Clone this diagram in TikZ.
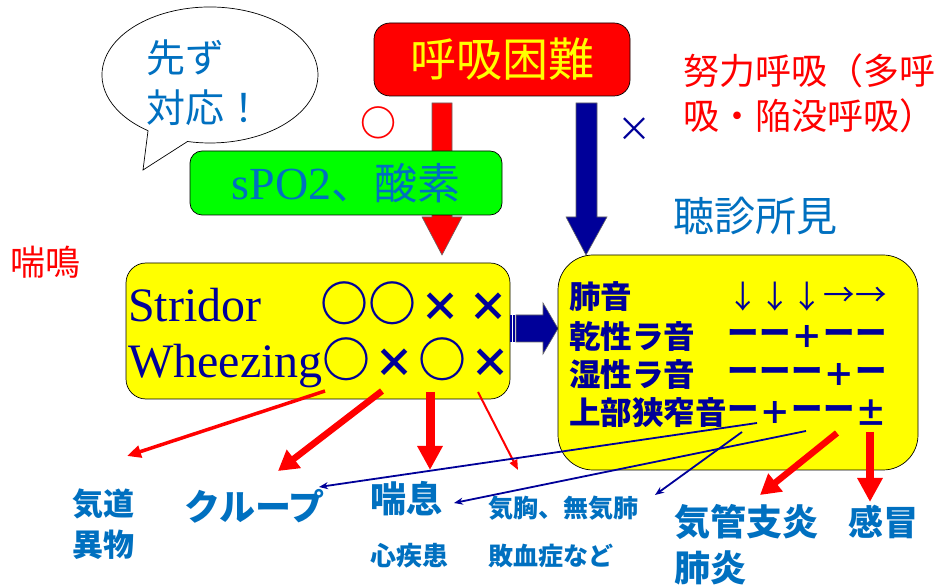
\documentclass[tikz,border=0pt]{standalone}
\usepackage{fontspec}
\setmainfont{Liberation Serif}
\newfontfamily\jp{Noto Sans CJK JP}
\usetikzlibrary{arrows.meta}
\definecolor{kred}{HTML}{FF0000}
\definecolor{kyellow}{HTML}{FFFF00}
\definecolor{kgreen}{HTML}{00FF00}
\definecolor{kblue}{HTML}{0070C0}
\definecolor{knavy}{HTML}{000099}
\newcommand{\fsz}[1]{\fontsize{#1}{#1}\selectfont}
\newcommand{\batsu}{\makebox[48pt]{\fsz{40}×}}

\begin{document}
\begin{tikzpicture}[x=1pt,y=-1pt,
  panel/.style={draw=black,line width=0.7pt,inner sep=0pt},
  jlbl/.style={inner sep=0pt,anchor=west,align=left},
  tlabel/.style={inner sep=0pt,anchor=west,text=knavy,font=\jp\bfseries\fsz{31.5}},
  tsym/.style={inner sep=0pt,text=knavy,font=\jp\bfseries\fsz{31.5}},
  redthin/.style={kred,line width=3.5pt,-{Triangle[length=14pt,width=12pt]}},
  redfine/.style={kred,line width=2pt,-{Triangle[length=10pt,width=8pt]}},
  redthick/.style={kred,line width=6.5pt,-{Triangle[length=20pt,width=22pt]}},
  redfat/.style={kred,line width=9pt,-{Triangle[length=24pt,width=24pt]}},
  navyline/.style={knavy,line width=1.8pt,-{Stealth[length=9pt,width=7pt]}},
  bigarrow/.style={draw=black!60,line width=0.6pt}
]
\fill[white] (0,0) rectangle (946,585);
\useasboundingbox (0,0) rectangle (946,585);

\filldraw[fill=white,draw=black,line width=0.7pt] (148,131) -- (143,170) -- (187.5,141.5)
   arc[start angle=102,end angle=-235,x radius=108,y radius=68] -- cycle;
\node[jlbl,text=kblue,font=\jp\fontsize{39}{50}\selectfont] (first) at (146,83) {先ず\\対応！};

\node[panel,fill=kred,rounded corners=16pt,minimum width=256pt,minimum height=73pt,text=kyellow,font=\jp\fsz{46}] (dysp) at (502,59.5) {呼吸困難};
\filldraw[fill=kred,bigarrow] (432,103) -- (452,103) -- (452,217) -- (462,217) -- (442,255) -- (422,217) -- (432,217) -- cycle;
\filldraw[fill=knavy,bigarrow] (576,103) -- (597,103) -- (597,217) -- (607,217) -- (586,255) -- (566,217) -- (576,217) -- cycle;
\node[panel,fill=kgreen,rounded corners=12pt,minimum width=312pt,minimum height=64pt,text=kblue] (spo) at (346,183) {\fsz{46}sPO2{\jp\fsz{43}、酸素}};

\node[text=kred,font=\jp\bfseries\fsz{36},inner sep=0pt] (yes) at (378,123) {○};
\node[text=knavy,font=\jp\fsz{34},inner sep=0pt] (no) at (634,130) {×};
\node[jlbl,text=kred,font=\jp\fontsize{36}{45}\selectfont] (effort) at (683,93) {努力呼吸（多呼\\吸・陥没呼吸）};
\node[jlbl,text=kblue,font=\jp\fsz{41}] (ausc) at (673,216) {聴診所見};
\node[jlbl,text=kred,font=\jp\fsz{35}] (stridor) at (10,262) {喘鳴};

\node[panel,fill=kyellow,rounded corners=20pt,minimum width=384pt,minimum height=136pt] (lbox) at (318,331) {};
\node[inner sep=0pt,anchor=base west,text=knavy,font=\fsz{48}] (str) at (128,322) {Stridor};
\node[inner sep=0pt,anchor=base west,text=knavy,font=\jp\bfseries\fsz{48}] (strm) at (320,322) {○○\batsu\batsu};
\node[inner sep=0pt,anchor=base west,text=knavy,font=\fsz{48}] (whz) at (128,378) {Wheezing{\jp\bfseries ○\batsu○\batsu}};

\fill[knavy] (510,315) rectangle (511.5,342);
\fill[knavy] (513,315) rectangle (514.5,342);
\filldraw[fill=knavy,bigarrow] (516,315) -- (543,315) -- (543,303) -- (558,328.5) -- (543,354) -- (543,342) -- (516,342) -- cycle;

\node[panel,fill=kyellow,rounded corners=35pt,minimum width=360pt,minimum height=215pt] (rbox) at (738,362.5) {};
\node[tlabel] (lung) at (569,297) {肺音};
\node[tlabel] (dry) at (569,337) {乾性ラ音};
\node[tlabel] (wet) at (569,375) {湿性ラ音};
\node[tlabel] (upper) at (569,413) {上部狭窄音};
\foreach \s [count=\c] in {↓,↓,↓,→,→}
   \node[tsym,font=\jp\fsz{31.5}] (a\c) at (711+32*\c,297) {\s};
\foreach \s [count=\c] in {ー,ー,＋,ー,ー}
   \node[tsym] (b\c) at (711+32*\c,337) {\s};
\foreach \s [count=\c] in {ー,ー,ー,＋,ー}
   \node[tsym] (c\c) at (711+32*\c,375) {\s};
\foreach \s [count=\c] in {ー,＋,ー,ー,±}
   \node[tsym] (d\c) at (711+32*\c,413) {\s};

\node[jlbl,text=kblue,font=\jp\bfseries\fontsize{31}{41}\selectfont] (fb) at (72,524) {気道\\異物};
\node[jlbl,text=kblue,font=\jp\bfseries\fsz{36}] (croup) at (184,506) {クループ};
\node[jlbl,text=kblue,font=\jp\bfseries\fsz{36}] (asthma) at (370,499) {喘息};
\node[jlbl,text=kblue,font=\jp\bfseries\fsz{26}] (heart) at (370,556) {心疾患};
\node[jlbl,text=kblue,font=\jp\bfseries\fsz{25}] (ptx) at (488,508) {気胸、無気肺};
\node[jlbl,text=kblue,font=\jp\bfseries\fsz{25}] (sepsis) at (488,556) {敗血症など};
\node[jlbl,text=kblue,font=\jp\bfseries\fontsize{36}{46}\selectfont] (bronch) at (674,545) {気管支炎\\肺炎};
\node[jlbl,text=kblue,font=\jp\bfseries\fsz{35}] (cold) at (848,522) {感冒};

\coordinate (w1) at (325,391);
\coordinate (w2) at (382,391);
\coordinate (w3) at (430,392);
\coordinate (w4) at (478,392);
\coordinate (fbin) at (127,456);
\coordinate (croupin) at (278,471);
\coordinate (asthmain) at (430,470);
\coordinate (ptxin) at (518,470);
\draw[redthin] (w1) -- (fbin);
\draw[redthick] (w2) -- (croupin);
\draw[redfat] (w3) -- (asthmain);
\draw[redfine] (w4) -- (ptxin);

\coordinate (u1) at (757,423);
\coordinate (u2) at (806,431);
\coordinate (u3) at (742,432);
\coordinate (u4) at (837,433);
\coordinate (u5) at (870,432);
\coordinate (croupend) at (319,487);
\coordinate (asthmaend) at (454,503);
\coordinate (ptxend) at (655,495);
\coordinate (bronchin) at (760,495);
\coordinate (coldin) at (870,502);
\draw[redthick] (u4) -- (bronchin);
\draw[redfat,line width=8pt] (u5) -- (coldin);
\draw[navyline] (u1) -- (croupend);
\draw[navyline] (u2) -- (asthmaend);
\draw[navyline] (u3) -- (ptxend);
\end{tikzpicture}
\end{document}
